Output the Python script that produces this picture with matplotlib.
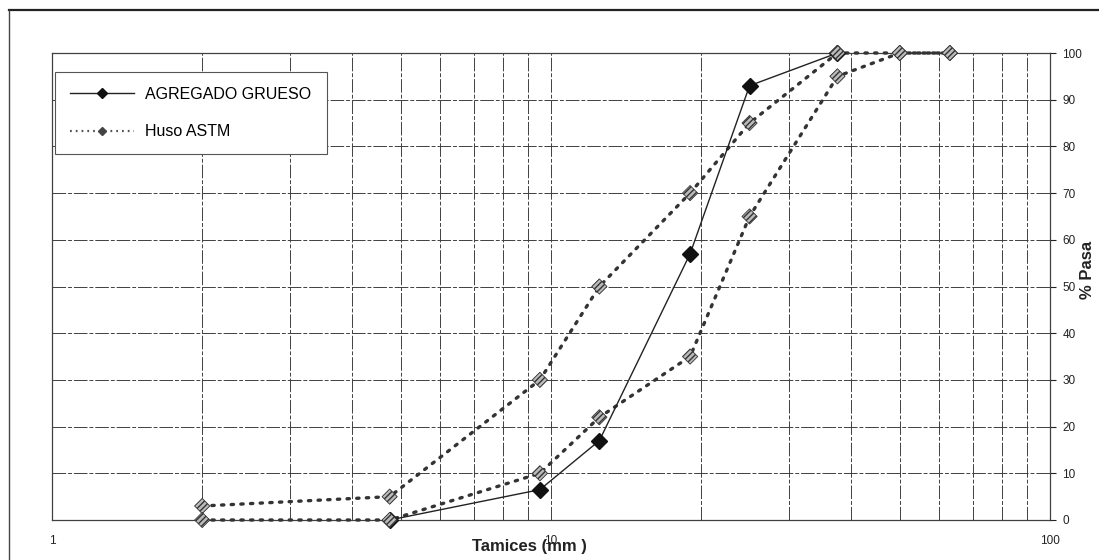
import matplotlib.pyplot as plt
from matplotlib.lines import Line2D
from matplotlib.ticker import FixedLocator, NullFormatter, FixedFormatter

# Tamaños de tamiz (mm) y % que pasa
tamiz_grueso = [4.75, 9.5, 12.5, 19, 25, 37.5]
pasa_grueso = [0, 6.5, 17, 57, 93, 100]

tamiz_huso = [2.0, 4.75, 9.5, 12.5, 19, 25, 37.5, 50, 63]
huso_sup = [3, 5, 30, 50, 70, 85, 100, 100, 100]
huso_inf = [0, 0, 10, 22, 35, 65, 95, 100, 100]

x_major = [1, 10, 100]
x_minor = [2, 3, 4, 5, 6, 7, 8, 9, 20, 30, 40, 50, 60, 70, 80, 90]
y_ticks = list(range(0, 101, 10))

plt.rcParams['font.family'] = ['Liberation Sans', 'DejaVu Sans']

W, H = 1099, 560
fig = plt.figure(figsize=(W / 100, H / 100), dpi=100)
ax = fig.add_axes([52 / W, 40 / H, 998 / W, 467 / H])

gris = '#404040'
grid_ls = (0, (14, 2, 4, 2))

ax.set_xscale('log')
ax.set_xlim(1, 100)
ax.set_ylim(0, 100)

ax.xaxis.set_major_locator(FixedLocator(x_major))
ax.xaxis.set_major_formatter(FixedFormatter([str(v) for v in x_major]))
ax.xaxis.set_minor_locator(FixedLocator(x_minor))
ax.xaxis.set_minor_formatter(NullFormatter())
ax.set_yticks(y_ticks)

ax.yaxis.tick_right()
ax.tick_params(axis='x', which='both', length=0, pad=11, labelsize=8.5, colors='#222')
ax.tick_params(axis='y', length=4, width=0.8, pad=5, labelsize=8.5, colors='#222')

ax.grid(True, which='both', axis='x', color=gris, lw=0.7, ls=grid_ls)
ax.grid(True, which='major', axis='y', color=gris, lw=0.7, ls=grid_ls)
for s in ax.spines.values():
    s.set_color(gris)
    s.set_linewidth(0.9)

# Agregado grueso
ax.plot(tamiz_grueso, pasa_grueso, color='#222222', lw=1.0, marker='D',
        markersize=8, markerfacecolor='#111111', markeredgecolor='#111111',
        zorder=4, clip_on=False)

# Huso ASTM (dos curvas limite)
for serie in (huso_sup, huso_inf):
    ax.plot(tamiz_huso, serie, color='#333333', lw=2.4, ls=(0, (0.7, 2.2)),
            dash_capstyle='round', zorder=3, clip_on=False)
    ax.scatter(tamiz_huso, serie, marker='D', s=60, facecolor='#bbbbbb',
               edgecolor='#333333', linewidths=0.6, hatch='//////', zorder=5,
               clip_on=False)

h1 = Line2D([], [], color='#222222', lw=1.0, marker='D', markersize=5,
            markerfacecolor='#111111', markeredgecolor='#111111')
h2 = Line2D([], [], color='#555555', lw=1.6, ls=(0, (0.8, 1.8)), marker='D',
            markersize=4.5, markerfacecolor='#444444', markeredgecolor='#444444')
leg = ax.legend([h1, h2], ['AGREGADO GRUESO', 'Huso ASTM'], loc='upper left',
                bbox_to_anchor=(0.003, 0.96), fontsize=11.5, numpoints=1,
                handlelength=4.0, handletextpad=0.7, labelspacing=1.4,
                borderpad=0.95, borderaxespad=0, fancybox=False,
                framealpha=1, edgecolor='#555555')
leg.get_frame().set_linewidth(0.8)
leg.set_zorder(6)

fig.text(529 / W, 1 - 547 / H, 'Tamices (mm )', ha='center', va='center',
         fontsize=12, fontweight='bold', color='#222')
fig.text(1087 / W, 1 - 270 / H, '% Pasa', ha='center', va='center',
         rotation=90, fontsize=12, fontweight='bold', color='#222')

# marco exterior (solo bordes superior e izquierdo visibles)
fig.add_artist(Line2D([9 / W, 1], [1 - 10 / H, 1 - 10 / H], color='#222', lw=1.6))
fig.add_artist(Line2D([9 / W, 9 / W], [0, 1 - 10 / H], color='#444', lw=1.0))

fig.savefig('out.png', dpi=100)
